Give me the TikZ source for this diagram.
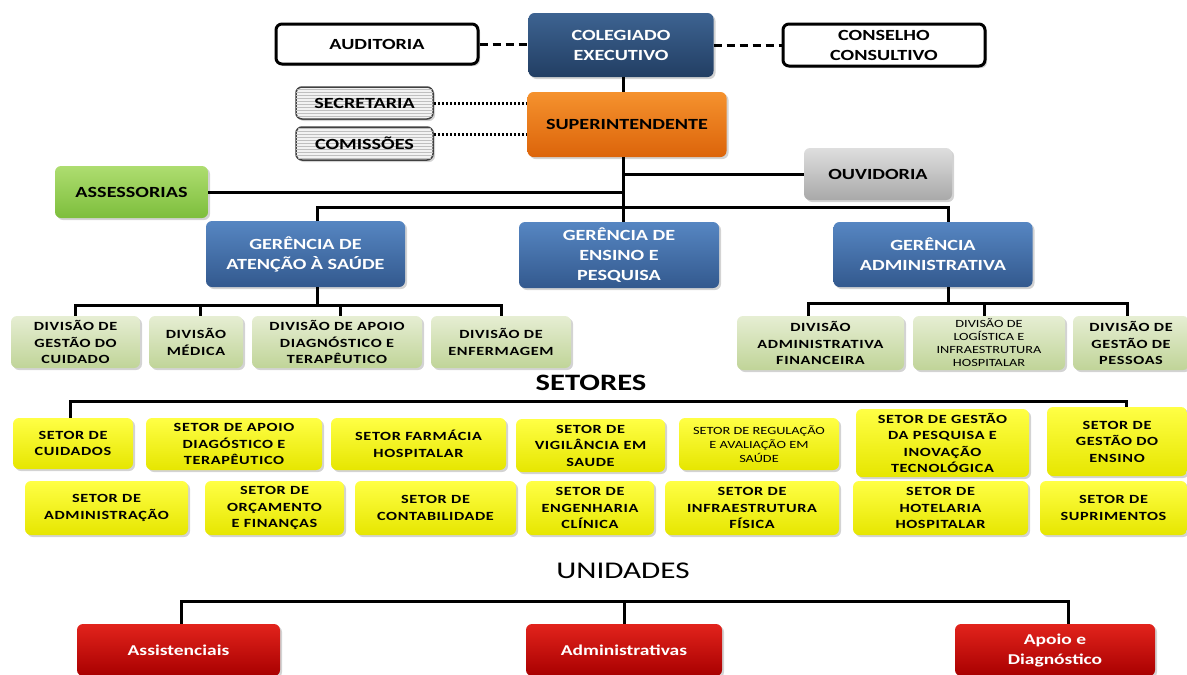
\documentclass[tikz,border=0pt]{standalone}
\usepackage{fontspec}
\setmainfont{Carlito}[FakeStretch=1.3]
\usetikzlibrary{shadows,patterns}
\definecolor{navytop}{HTML}{3D6391}
\definecolor{navybot}{HTML}{223E63}
\definecolor{orangetop}{HTML}{F5922E}
\definecolor{orangebot}{HTML}{DC640A}
\definecolor{bluetop}{HTML}{5686C2}
\definecolor{bluebot}{HTML}{33598E}
\definecolor{graytop}{HTML}{DEDEDE}
\definecolor{graybot}{HTML}{A9A9A9}
\definecolor{greentop}{HTML}{AEDD70}
\definecolor{greenbot}{HTML}{7DBE3C}
\definecolor{divtop}{HTML}{E6EED3}
\definecolor{divbot}{HTML}{C0D498}
\definecolor{yeltop}{HTML}{FFFF45}
\definecolor{yelbot}{HTML}{E6E600}
\definecolor{redtop}{HTML}{E2231C}
\definecolor{redbot}{HTML}{A80000}
\tikzset{
  box/.style={rounded corners=6pt, align=center, inner sep=1pt,
    drop shadow={shadow xshift=2pt, shadow yshift=-2pt, opacity=.35}},
  bigtext/.style={font=\fontsize{15.5}{20}\selectfont\bfseries},
  topbox/.style={box, bigtext, top color=navytop, bottom color=navybot, text=white},
  outline/.style={box, bigtext, draw=black, line width=3pt, fill=white},
  hatched/.style={box, bigtext, draw=black!75, line width=1.5pt, fill=gray!10,
    postaction={pattern=horizontal lines, pattern color=gray!50}},
  superbox/.style={box, bigtext, top color=orangetop, bottom color=orangebot},
  gerbox/.style={box, bigtext, top color=bluetop, bottom color=bluebot, text=white},
  ouvbox/.style={box, bigtext, top color=graytop, bottom color=graybot},
  assbox/.style={box, bigtext, top color=greentop, bottom color=greenbot},
  divbox/.style={box, top color=divtop, bottom color=divbot, minimum height=52pt,
    font=\fontsize{12.5}{16.5}\selectfont\bfseries\addfontfeature{LetterSpace=5}},
  setbox/.style={box, top color=yeltop, bottom color=yelbot, minimum height=52pt,
    font=\fontsize{12.5}{16.5}\selectfont\bfseries\addfontfeature{LetterSpace=5}},
  unibox/.style={box, top color=redtop, bottom color=redbot, text=white, minimum height=52pt,
    font=\fontsize{15}{20}\selectfont\bfseries},
  heading/.style={font=\fontsize{23.5}{26}\selectfont\bfseries},
  wire/.style={line width=3pt},
  dashwire/.style={line width=3pt, dash pattern=on 8pt off 5pt},
  dotwire/.style={line width=3pt, dash pattern=on 2pt off 2pt}
}
\begin{document}
\begin{tikzpicture}[x=1pt, y=-1pt]
  \useasboundingbox (0,0) rectangle (1187,675);
  \node[topbox, minimum width=185pt, minimum height=64pt] (coleg) at (621,45) {COLEGIADO\\EXECUTIVO};
  \node[outline, minimum width=202pt, minimum height=40pt] (audit) at (377,44) {AUDITORIA};
  \node[outline, minimum width=202pt, minimum height=42pt] (consel) at (884,45) {CONSELHO\\CONSULTIVO};
  \node[superbox, minimum width=199pt, minimum height=65pt] (super) at (627,124.5) {SUPERINTENDENTE};
  \node[hatched, minimum width=137pt, minimum height=32pt] (secret) at (364.5,103) {SECRETARIA};
  \node[hatched, minimum width=137pt, minimum height=33pt] (comis) at (364.5,143.5) {COMISSÕES};
  \node[ouvbox, minimum width=148pt, minimum height=52pt] (ouvid) at (878,174) {OUVIDORIA};
  \node[assbox, minimum width=153pt, minimum height=52pt] (assess) at (131.5,192) {ASSESSORIAS};
  \node[gerbox, minimum width=199pt, minimum height=66pt] (gas) at (305.5,254) {GERÊNCIA DE\\ATENÇÃO À SAÚDE};
  \node[gerbox, minimum width=200pt, minimum height=66pt] (ensino) at (619,255) {GERÊNCIA DE\\ENSINO E\\PESQUISA};
  \node[gerbox, minimum width=199pt, minimum height=65pt] (gadm) at (933,254.5) {GERÊNCIA\\ADMINISTRATIVA};

  \node[divbox, minimum width=129pt] (dgc) at (75.5,342) {DIVISÃO DE\\GESTÃO DO\\CUIDADO};
  \node[divbox, minimum width=94pt] (dmed) at (196,342) {DIVISÃO\\MÉDICA};
  \node[divbox, minimum width=170pt] (dapoio) at (337,342) {DIVISÃO DE APOIO\\DIAGNÓSTICO E\\TERAPÊUTICO};
  \node[divbox, minimum width=140pt] (denf) at (501,342) {DIVISÃO DE\\ENFERMAGEM};
  \node[divbox, minimum width=167pt, minimum height=54pt] (dadm) at (820.5,343) {DIVISÃO\\ADMINISTRATIVA\\FINANCEIRA};
  \node[divbox, minimum width=152pt, minimum height=54pt, font=\fontsize{11}{13}\selectfont] (dlog) at (989,343) {DIVISÃO DE\\LOGÍSTICA E\\INFRAESTRUTURA\\HOSPITALAR};
  \node[divbox, minimum width=116pt, minimum height=54pt] (dpes) at (1131,343) {DIVISÃO DE\\GESTÃO DE\\PESSOAS};

  \node[heading] (setores) at (591,383) {SETORES};
  \node[setbox, minimum width=120pt, minimum height=51pt] (s1) at (73,443.5) {SETOR DE\\CUIDADOS};
  \node[setbox, minimum width=176pt] (s2) at (234,444) {SETOR DE APOIO\\DIAGÓSTICO  E\\TERAPÊUTICO};
  \node[setbox, minimum width=175pt] (s3) at (418.5,444) {SETOR FARMÁCIA\\HOSPITALAR};
  \node[setbox, minimum width=149pt, minimum height=53pt] (s4) at (590.5,445.5) {SETOR DE\\VIGILÂNCIA EM\\SAUDE};
  \node[setbox, minimum width=160pt, font=\fontsize{11}{14}\selectfont] (s5) at (759,444) {SETOR DE REGULAÇÃO\\E AVALIAÇÃO EM\\SAÚDE};
  \node[setbox, minimum width=173pt, minimum height=68pt] (s6) at (942.5,443) {SETOR DE GESTÃO\\DA PESQUISA  E\\INOVAÇÃO\\TECNOLÓGICA};
  \node[setbox, minimum width=140pt, minimum height=69pt] (s7) at (1117,441.5) {SETOR DE\\GESTÃO DO\\ENSINO};
  \node[setbox, minimum width=163pt, minimum height=54pt] (r1) at (106.5,508) {SETOR DE\\ADMINISTRAÇÃO};
  \node[setbox, minimum width=139pt, minimum height=54pt] (r2) at (274.5,508) {SETOR DE\\ORÇAMENTO\\E FINANÇAS};
  \node[setbox, minimum width=161pt, minimum height=54pt] (r3) at (435.5,508) {SETOR DE\\CONTABILIDADE};
  \node[setbox, minimum width=128pt, minimum height=54pt] (r4) at (590,508) {SETOR DE\\ENGENHARIA\\CLÍNICA};
  \node[setbox, minimum width=174pt, minimum height=54pt] (r5) at (752,508) {SETOR DE\\INFRAESTRUTURA\\FÍSICA};
  \node[setbox, minimum width=175pt, minimum height=54pt] (r6) at (940.5,508) {SETOR DE\\HOTELARIA\\HOSPITALAR};
  \node[setbox, minimum width=147pt, minimum height=54pt] (r7) at (1113.5,508) {SETOR DE\\SUPRIMENTOS};

  \node[heading, font=\fontsize{24}{26}\selectfont] (unidades) at (623,571) {UNIDADES};
  \node[unibox, minimum width=203pt] (u1) at (178.5,650) {Assistenciais};
  \node[unibox, minimum width=196pt] (u2) at (624,650) {Administrativas};
  \node[unibox, minimum width=200pt] (u3) at (1055,650) {Apoio e\\Diagnóstico};

  \coordinate (trunk) at (623,0);
  \draw[wire] (coleg.south -| trunk) -- (super.north -| trunk);
  \draw[wire] (super.south -| trunk) -- (ensino.north -| trunk);
  \draw[wire] (assess.east) -- (assess.east -| trunk);
  \draw[wire] (ouvid.west) -- (ouvid.west -| trunk);
  \draw[dashwire] (audit.east) -- (audit.east -| coleg.west);
  \draw[dashwire] (coleg.east |- consel.west) -- (consel.west);
  \draw[dotwire] (secret.east) -- (secret.east -| super.west);
  \draw[dotwire] ([yshift=9pt]comis.east) -- ([yshift=9pt]comis.east -| super.west);

  \coordinate (bus1) at (623,207);
  \draw[wire] ([xshift=12pt]gas.north) |- (bus1) -| ([xshift=15pt]gadm.north);
  \draw[wire] ([xshift=12pt]gas.south) -- ++(0,18) coordinate (bus2);
  \draw[wire] (dgc.north) |- (bus2) -| (denf.north);
  \draw[wire] ([xshift=4pt]dmed.north) -- ([xshift=4pt]dmed.north |- bus2);
  \draw[wire] ([xshift=3pt]dapoio.north) -- ([xshift=3pt]dapoio.north |- bus2);
  \draw[wire] ([xshift=15pt]gadm.south) -- ++(0,16) coordinate (bus3);
  \draw[wire] ([xshift=-12pt]dadm.north) |- (bus3) -| ([xshift=-4pt]dpes.north);
  \draw[wire] ([xshift=-5pt]dlog.north) -- ([xshift=-5pt]dlog.north |- bus3);

  \coordinate (bus4) at (600,401);
  \draw[wire] ([xshift=-3pt]s1.north) |- (bus4) -| ([xshift=9pt]s7.north);

  \coordinate (bus5) at (600,601);
  \draw[wire] ([xshift=3pt]u1.north) |- (bus5) -| ([xshift=13pt]u3.north);
  \draw[wire] (u2.north) -- (u2.north |- bus5);
\end{tikzpicture}
\end{document}
